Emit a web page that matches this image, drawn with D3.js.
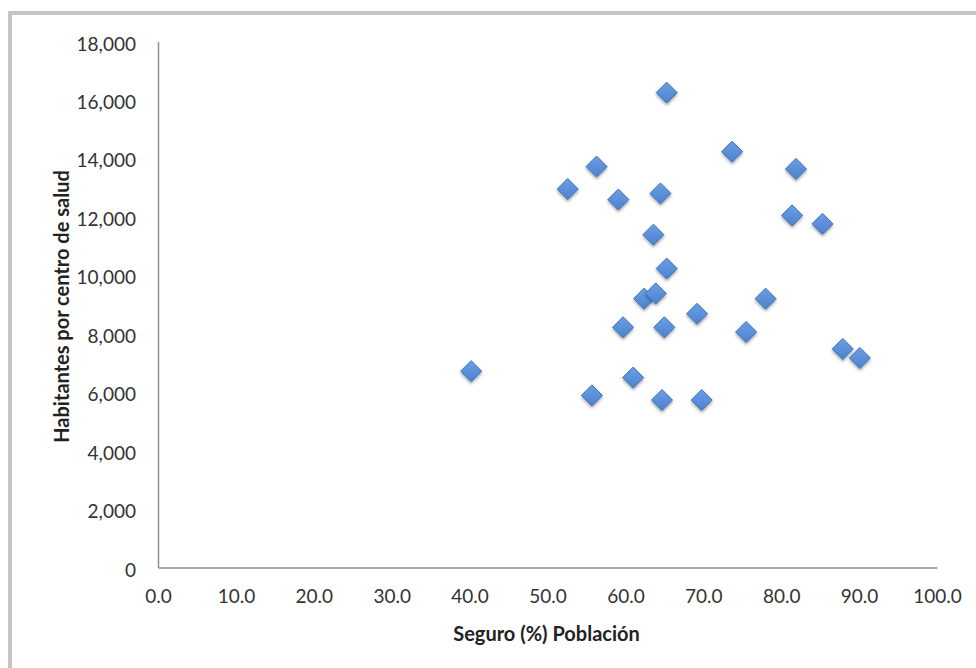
<!DOCTYPE html>
<html>
<head>
<meta charset="utf-8">
<script src="https://cdn.jsdelivr.net/npm/d3@7"></script>
<style>
  body { margin: 0; background: #ffffff; }
</style>
</head>
<body>
<div id="chart"></div>
<script>
// Datos: Seguro (%) Población vs Habitantes por centro de salud
const seguro = [65.3, 73.7, 56.3, 81.9, 52.6, 59.1, 64.5, 81.4, 85.3, 63.6,
                65.3, 62.4, 63.9, 78.0, 69.2, 59.7, 65.0, 75.5, 87.9, 90.1,
                40.2, 61.0, 55.7, 64.7, 69.8];
const habitantes = [16250, 14230, 13720, 13640, 12950, 12590, 12800, 12050, 11760, 11390,
                    10230, 9200, 9380, 9200, 8680, 8220, 8220, 8060, 7480, 7170,
                    6720, 6500, 5890, 5730, 5730];
const xTicks = [0, 10, 20, 30, 40, 50, 60, 70, 80, 90, 100];
const yTicks = [0, 2000, 4000, 6000, 8000, 10000, 12000, 14000, 16000, 18000];

const W = 976, H = 668;
const plot = { left: 158, right: 937, top: 41.5, bottom: 567.5 };

const svg = d3.select("#chart").append("svg")
  .attr("width", W)
  .attr("height", H);

// marco gris
svg.append("rect")
  .attr("x", 10).attr("y", 13)
  .attr("width", W).attr("height", H)
  .attr("fill", "none")
  .attr("stroke", "#c6c6c6")
  .attr("stroke-width", 4);

const x = d3.scaleLinear().domain([0, 100]).range([plot.left, plot.right]);
const y = d3.scaleLinear().domain([0, 18000]).range([plot.bottom, plot.top]);

const font = "Lato, 'Open Sans', sans-serif";

// ejes
const xAxis = svg.append("g")
  .attr("transform", `translate(0,${plot.bottom})`)
  .call(d3.axisBottom(x).tickValues(xTicks).tickFormat(d3.format(".1f")).tickSize(0).tickPadding(22));

const yAxis = svg.append("g")
  .attr("transform", `translate(${plot.left},0)`)
  .call(d3.axisLeft(y).tickValues(yTicks).tickFormat(d3.format(",")).tickSize(0).tickPadding(22));

[xAxis, yAxis].forEach(a => {
  a.select(".domain").attr("stroke", "#8e8e8e").attr("stroke-width", 1.5);
  a.selectAll("text")
    .attr("font-family", font)
    .attr("font-size", "19px")
    .attr("fill", "#333");
});
yAxis.selectAll("text").attr("dy", "0.45em");

// títulos
svg.append("text")
  .attr("x", (plot.left + plot.right) / 2 - 1)
  .attr("y", 641)
  .attr("text-anchor", "middle")
  .attr("font-family", font)
  .attr("font-size", "20px")
  .attr("font-weight", "bold")
  .attr("fill", "#222")
  .text("Seguro (%) Población");

svg.append("text")
  .attr("transform", `translate(69,${(plot.top + plot.bottom) / 2 + 2}) rotate(-90)`)
  .attr("text-anchor", "middle")
  .attr("font-family", font)
  .attr("font-size", "20px")
  .attr("font-weight", "bold")
  .attr("fill", "#222")
  .text("Habitantes por centro de salud");

// degradado y sombra de los rombos
const defs = svg.append("defs");
const grad = defs.append("linearGradient")
  .attr("id", "diamondGrad")
  .attr("x1", "0%").attr("y1", "0%")
  .attr("x2", "0%").attr("y2", "100%");
grad.append("stop").attr("offset", "0%").attr("stop-color", "#6a9fe4");
grad.append("stop").attr("offset", "100%").attr("stop-color", "#4c82cf");

const shadow = defs.append("filter")
  .attr("id", "shadow")
  .attr("x", "-50%").attr("y", "-50%")
  .attr("width", "200%").attr("height", "200%");
shadow.append("feDropShadow")
  .attr("dx", 0).attr("dy", 2)
  .attr("stdDeviation", 1.5)
  .attr("flood-color", "#000")
  .attr("flood-opacity", 0.35);

const s = 10.5;
const diamond = `M0,${-s} L${s},0 L0,${s} L${-s},0 Z`;

const points = seguro.map((v, i) => ({ x: v, y: habitantes[i] }));

svg.append("g").selectAll("path")
  .data(points)
  .join("path")
  .attr("d", diamond)
  .attr("transform", d => `translate(${x(d.x)},${y(d.y)})`)
  .attr("fill", "url(#diamondGrad)")
  .attr("stroke", "#3f70b8")
  .attr("stroke-width", 1)
  .attr("stroke-linejoin", "round")
  .attr("filter", "url(#shadow)");
</script>
</body>
</html>
